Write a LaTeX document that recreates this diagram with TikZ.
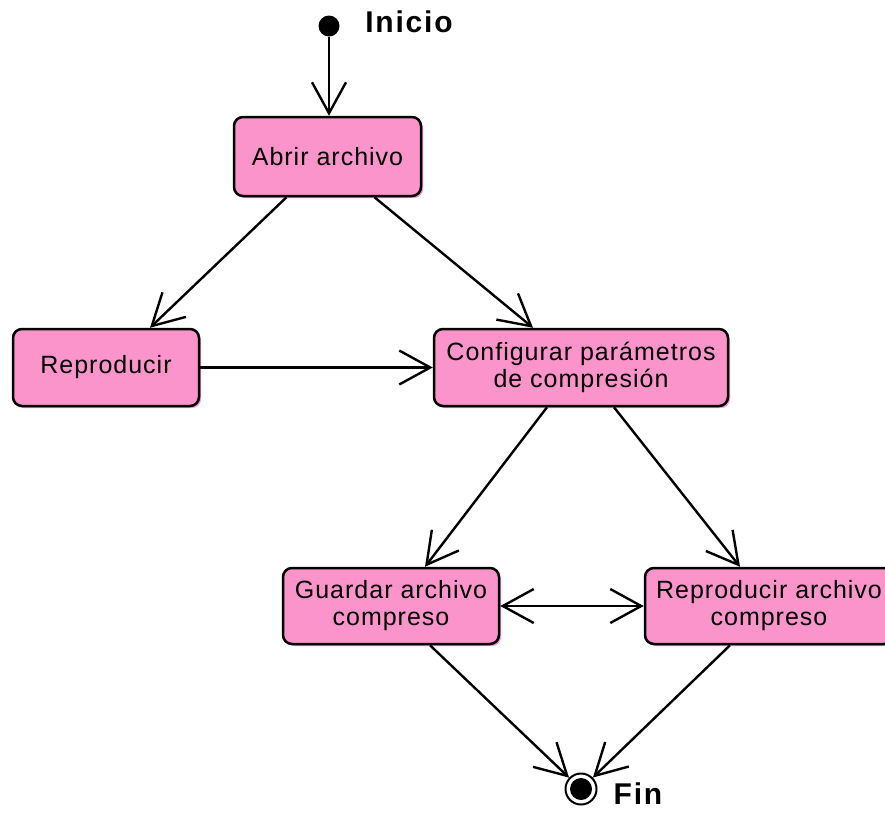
\documentclass[tikz,border=0pt]{standalone}
\usepackage{fontspec}
\setmainfont{Liberation Sans}
\newfontfamily\boxfont[LetterSpace=4]{Liberation Sans}
\newfontfamily\labfont[LetterSpace=6]{Liberation Sans}
\usetikzlibrary{arrows.meta,shadows}
\definecolor{statepink}{RGB}{250,148,202}
\tikzset{
  statebox/.style={draw=black, line width=2.5pt, fill=statepink, rounded corners=9pt,
    inner sep=0pt, align=center, font=\boxfont\fontsize{25}{27}\selectfont,
    drop shadow={shadow xshift=2pt, shadow yshift=-2pt, fill=statepink, opacity=1}},
  conn/.style={line width=2.4pt, -{Straight Barb[length=31pt,width=34pt,line width=2.4pt]}},
  biconn/.style={line width=2.4pt, {Straight Barb[length=31pt,width=34pt,line width=2.4pt]}-{Straight Barb[length=31pt,width=34pt,line width=2.4pt]}},
  biglabel/.style={font=\labfont\bfseries\fontsize{30}{32}\selectfont, inner sep=0pt}
}
\begin{document}
\begin{tikzpicture}[x=1pt,y=-1pt]
\useasboundingbox (0,0) rectangle (885,812);
\begin{scope}
\clip (0,0) rectangle (885,812);
% initial state
\node[circle, fill=black, inner sep=0pt, minimum size=21pt] (init) at (329,26) {};
\node[biglabel] (inicio) at (409,22) {Inicio};
% states
\node[statebox, minimum width=187pt, minimum height=79pt] (abrir) at (327.5,156.5) {Abrir archivo};
\node[statebox, minimum width=186pt, minimum height=77pt] (repro) at (106,367.5) {Reproducir};
\node[statebox, minimum width=294pt, minimum height=77pt] (config) at (581,367.5) {Configurar parámetros\\de compresión};
\node[statebox, minimum width=216pt, minimum height=76pt] (guardar) at (391,606) {Guardar archivo\\compreso};
\node[statebox, minimum width=248pt, minimum height=76pt] (reparch) at (769,606) {Reproducir archivo\\compreso};
% final state
\node[circle, draw=black, line width=2pt, fill=white, inner sep=0pt, minimum size=31pt] (fin) at (581,789) {};
\node[circle, fill=black, inner sep=0pt, minimum size=22pt] (fincore) at (fin) {};
\node[biglabel] (finlab) at (638,794) {Fin};
% connectors
\draw[conn] (init) -- (init |- abrir.north);
\draw[conn] ([xshift=-41pt]abrir.south) -- ([xshift=44pt]repro.north);
\draw[conn] ([xshift=47pt]abrir.south) -- ([xshift=-48pt]config.north);
\draw[conn] (repro.east) -- (config.west);
\draw[conn] ([xshift=-34pt]config.south) -- ([xshift=34pt]guardar.north);
\draw[conn] ([xshift=33pt]config.south) -- ([xshift=-29pt]reparch.north);
\draw[biconn] (guardar.east) -- (reparch.west);
\draw[conn] ([xshift=39pt]guardar.south) -- (fin);
\draw[conn] ([xshift=-39pt]reparch.south) -- (fin);
\end{scope}
\end{tikzpicture}
\end{document}
